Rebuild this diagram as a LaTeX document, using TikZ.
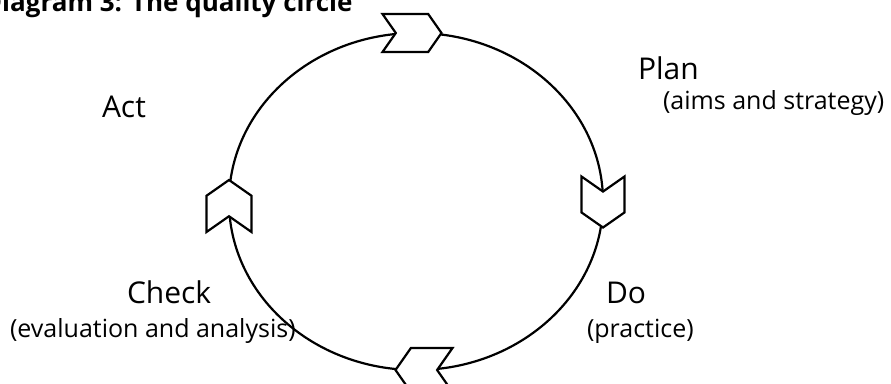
\documentclass[tikz,border=0pt]{standalone}
\usepackage{fontspec}
\setmainfont{Open Sans}
\usetikzlibrary{shapes.symbols}
\begin{document}
\begin{tikzpicture}[
      x=1pt, y=-1pt,
      % --- GLOBAL STYLES ---
      every node/.style={inner sep=0pt, outer sep=0pt},
      stage/.style={anchor=base west, font=\fontsize{30}{36}\selectfont},
      stage-note/.style={anchor=base west, font=\fontsize{25}{30}\selectfont},
      headline/.style={anchor=base west, font=\bfseries\fontsize{26}{31}\selectfont},
      chevron/.style={signal, signal to=east, signal from=west, draw=black, fill=white, line width=2.2pt, signal pointer angle=110, line join=miter},
      ring/.style={line width=2.2pt, draw=black}
  ]
    %
    % 1. Frame
    \useasboundingbox (0,0) rectangle (891,383);
    \node[headline] (title) at (-17,11) {Diagram 3: The quality circle};
    %
    % 2. The circle
    \coordinate (centre) at (416,201.5);
    \draw[ring] (centre) ellipse [x radius=187, y radius=168.5];
    %
    % 3. Chevrons on the circle
    \node[chevron, minimum width=59, minimum height=38] (toparrow) at (412,33) {};
    \node[chevron, minimum width=51, minimum height=43, rotate=-90] (rightarrow) at (603,202) {};
    \node[chevron, minimum width=57, minimum height=44, rotate=180] (bottomarrow) at (424,370) {};
    \node[chevron, minimum width=52, minimum height=45, rotate=90] (leftarrow) at (229,206) {};
    %
    % 4. Stage labels
    \node[stage] (plan) at (638,79) {Plan};
    \node[stage-note] (plannote) at (663,109) {(aims and strategy)};
    \node[stage] (do) at (606,303) {Do};
    \node[stage-note] (donote) at (587,337) {(practice)};
    \node[stage] (check) at (127,303) {Check};
    \node[stage-note] (checknote) at (10,337) {(evaluation and analysis)};
    \node[stage] (act) at (102,117) {Act};
\end{tikzpicture}
\end{document}
